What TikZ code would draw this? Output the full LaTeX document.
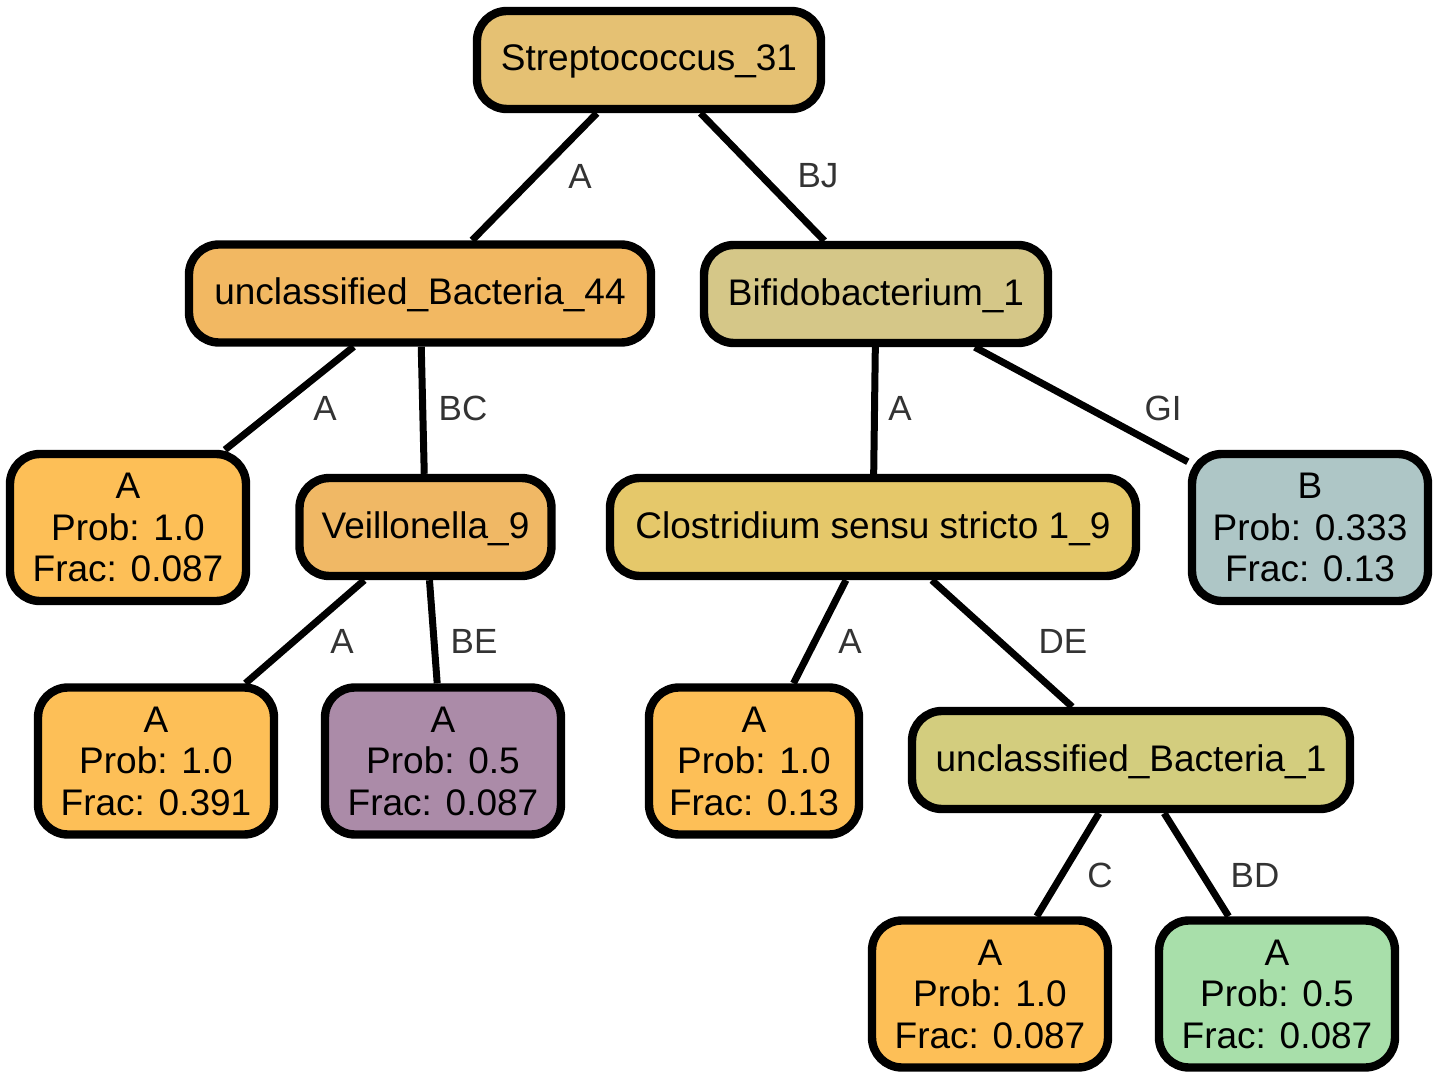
\documentclass[tikz,border=0pt]{standalone}
\usepackage{fontspec}
\setmainfont{Liberation Sans}
\begin{document}
\begin{tikzpicture}[x=0.5pt,y=-0.5pt,
  box/.style={draw=black, line width=4.2pt, rounded corners=15pt, inner sep=0pt,
    align=center, font=\fontsize{18.5}{20.75}\selectfont, minimum height=49pt},
  single/.style={box, text depth=2pt},
  leaf/.style={box, minimum height=73.5pt, minimum width=118pt},
  edge/.style={draw=black, line width=3.5pt},
  lbl/.style={text=black!80, font=\fontsize{17.5}{20}\selectfont, inner sep=0pt}]
\definecolor{cStrep}{HTML}{E5C173}
\definecolor{cUB}{HTML}{F2B862}
\definecolor{cBif}{HTML}{D5C788}
\definecolor{cOrange}{HTML}{FDBF57}
\definecolor{cVeil}{HTML}{F0B865}
\definecolor{cClost}{HTML}{E5C86A}
\definecolor{cBlue}{HTML}{AEC6C6}
\definecolor{cPurple}{HTML}{AB8BA8}
\definecolor{cUBone}{HTML}{D3CD7E}
\definecolor{cGreen}{HTML}{A8DFAA}
\useasboundingbox[fill=white] (0,0) rectangle (1440,1079);

% inner nodes
\node[single, fill=cStrep, minimum width=172pt] (s31) at (649,60) {Streptococcus\_31};
\node[single, fill=cUB, minimum width=231pt] (ub44) at (420,293.5) {unclassified\_Bacteria\_44};
\node[single, fill=cBif, minimum width=172pt] (bif) at (876,294) {Bifidobacterium\_1};
\node[single, fill=cVeil, minimum width=126pt] (veil) at (425.5,527) {Veillonella\_9};
\node[single, fill=cClost, minimum width=263pt] (clost) at (873,527) {Clostridium sensu stricto 1\_9};
\node[single, fill=cUBone, minimum width=219pt] (ub1) at (1131,760) {unclassified\_Bacteria\_1};

% leaves
\node[leaf, fill=cOrange] (la) at (128,527.5) {A\\Prob: 1.0\\Frac: 0.087};
\node[leaf, fill=cBlue] (lb) at (1310,527.5) {B\\Prob: 0.333\\Frac: 0.13};
\node[leaf, fill=cOrange] (lv1) at (156,761) {A\\Prob: 1.0\\Frac: 0.391};
\node[leaf, fill=cPurple] (lv2) at (443,761) {A\\Prob: 0.5\\Frac: 0.087};
\node[leaf, fill=cOrange, minimum width=105pt] (lc1) at (754,761) {A\\Prob: 1.0\\Frac: 0.13};
\node[leaf, fill=cOrange] (lu1) at (990,994) {A\\Prob: 1.0\\Frac: 0.087};
\node[leaf, fill=cGreen] (lu2) at (1277,994) {A\\Prob: 0.5\\Frac: 0.087};

% connectors with their labels
\draw[edge] (s31) -- (ub44) node[lbl] at (580,176) {A};
\draw[edge] (s31) -- (bif) node[lbl] at (818,176) {BJ};
\draw[edge] (ub44) -- (la) node[lbl] at (325,408) {A};
\draw[edge] (ub44) -- (veil) node[lbl] at (463,408) {BC};
\draw[edge] (bif) -- (clost) node[lbl] at (900,408) {A};
\draw[edge] (bif) -- (lb) node[lbl] at (1163,408) {GI};
\draw[edge] (veil) -- (lv1) node[lbl] at (342,641) {A};
\draw[edge] (veil) -- (lv2) node[lbl] at (474,641) {BE};
\draw[edge] (clost) -- (lc1) node[lbl] at (850,641) {A};
\draw[edge] (clost) -- (ub1) node[lbl] at (1063,641) {DE};
\draw[edge] (ub1) -- (lu1) node[lbl] at (1100,875) {C};
\draw[edge] (ub1) -- (lu2) node[lbl] at (1255,875) {BD};
\end{tikzpicture}
\end{document}
